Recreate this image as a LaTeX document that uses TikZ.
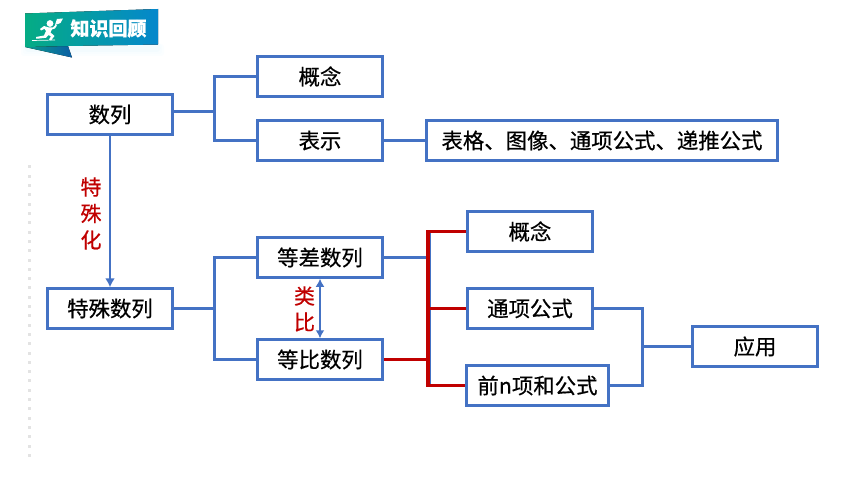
\documentclass[tikz,border=0pt]{standalone}
\usepackage{fontspec}
\setmainfont{Noto Sans CJK SC}
\newfontfamily\boxcjk{Noto Sans CJK SC}[FakeBold=0.5]
\usetikzlibrary{arrows.meta,calc}
\definecolor{boxblue}{HTML}{4472C4}
\definecolor{darkred}{HTML}{C00000}
\definecolor{ribL}{HTML}{05AC84}
\definecolor{ribR}{HTML}{0587CC}
\definecolor{tailL}{HTML}{0A9C8C}
\definecolor{tailR}{HTML}{0B5FA5}
\tikzset{x=1pt,y=-1pt,
  box/.style={draw=boxblue,line width=3pt,fill=white,minimum height=39.5pt,inner sep=0pt,font=\boxcjk\fontsize{21.4}{24}\selectfont,text=black},
  wbox/.style={box,minimum width=124.5pt},
  link/.style={draw=boxblue,line width=3pt},
  redlink/.style={draw=darkred,line width=3.2pt},
  arrowlink/.style={draw=boxblue,line width=2.6pt},
  redlabel/.style={text=darkred,font=\boxcjk\fontsize{21}{24}\selectfont,inner sep=0pt,align=center},
}
\begin{document}
\begin{tikzpicture}
\useasboundingbox (0,0) rectangle (860,484);
% dotted margin
\foreach \i in {0,...,31} \fill[black!11] (27.5,{167+\i*9.3-1.5}) rectangle ++(3,3);
% ribbon
\foreach \o/\e in {0.05/6,0.05/4,0.06/2}
  \fill[cyan!30,opacity=\o,rounded corners=3pt] (27-\e,44) rectangle (158+\e,50+\e);
\fill[left color=tailL,right color=tailR] (25,47) -- (72,57.5) -- (68,46) -- cycle;
\fill[left color=ribL,right color=ribR] (25,13.5) -- (158,9) -- (158,44.5) -- (68,46) -- (25,47) -- cycle;
% runner icon
\fill[white] (50,23.5) circle (3.4);
\fill[white] (49,27.5) -- (44,26) -- (40,29) -- (41,30.5) -- (44.5,28.8) -- (46,31) -- (44,35.5) -- (36,37) -- (36.5,38.8) -- (46,37.8) -- (48.5,35) -- (51,36.5) -- (49,39.5) -- (51,40.5) -- (54.5,36) -- (50.5,32.5) -- (52,29.5) -- (55,28.5) -- (57,25.5) -- (55.5,25) -- (53,27.5) -- cycle;
\fill[white] (55,25) -- (57,19) -- (63,18.5) -- (60.5,23) -- (58,24) -- cycle;
\draw[white,line width=.7pt] (32,40.5) -- (55,40);
\node[text=white,font=\boxcjk\fontsize{19}{22}\bfseries\selectfont,inner sep=0pt] (ribbon) at (108.5,28.5) {知识回顾};
% nodes
\node[wbox] (shulie) at (110,114.5) {数列};
\node[wbox] (gainian) at (320,76.5) {概念};
\node[wbox] (biaoshi) at (320,140.5) {表示};
\node[box,minimum width=351pt] (biaoge) at (602,140.5) {表格、图像、通项公式、递推公式};
\node[wbox] (teshu) at (110,308.5) {特殊数列};
\node[wbox] (dengcha) at (320,257.5) {等差数列};
\node[wbox] (dengbi) at (320,359.5) {等比数列};
\node[wbox] (gn) at (530,231.5) {概念};
\node[wbox] (tx) at (530,308.5) {通项公式};
\node[box,minimum width=141.5pt] (qn) at (537.5,385.5) {前n项和公式};
\node[wbox] (yy) at (755,346.5) {应用};
% junctions
\coordinate (j1) at (214,112);
\coordinate (j2) at (214,308.5);
\coordinate (j3) at (428,257.5);
\coordinate (j4) at (642,346.5);
% connectors
\path[link] (shulie.east |- j1) -- (j1);
\path[link] (gainian.west) -| (j1) |- (biaoshi.west);
\path[link] (biaoshi.east) -- (biaoge.west);
\path[link] (teshu.east) -- (j2);
\path[link] (dengcha.west) -| (j2) |- (dengbi.west);
\path[link] (dengcha.east) -- (j3);
\path[link] (429,232) -- (429,385.5) -- (qn.west);
\path[link] (tx.east) -| (j4) |- (qn.east);
\path[link] (j4) -- (yy.west);
\path[redlink] (dengbi.east) -- (j3 |- dengbi.east);
\path[redlink] (gn.west) -- (j3 |- gn.west) -- (j3 |- qn.west) -- (qn.west);
\path[redlink] (j3 |- tx.west) -- (tx.west);
\draw[arrowlink,-{Latex[length=9pt,width=10pt]}] (shulie.south) -- (teshu.north);
\draw[arrowlink,{Latex[length=8pt,width=9pt]}-{Latex[length=8pt,width=9pt]}] (dengcha.south) -- (dengbi.north);
% labels
\node[redlabel] (l1) at (91,187) {特};
\node[redlabel] (l2) at (91,213.5) {殊};
\node[redlabel] (l3) at (91,240) {化};
\node[redlabel] (l4) at (304.5,296) {类};
\node[redlabel] (l5) at (304.5,322) {比};
\end{tikzpicture}
\end{document}
